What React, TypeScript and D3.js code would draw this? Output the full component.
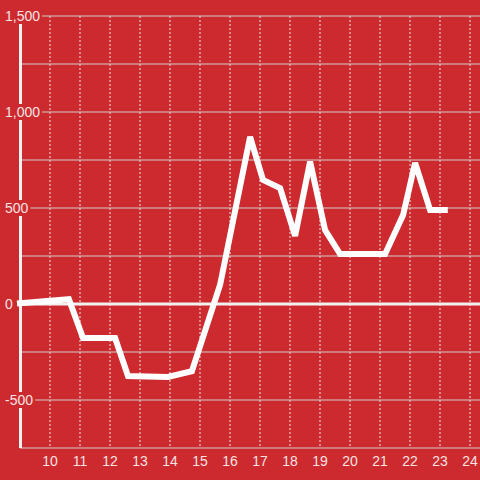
import React from "react";
import * as d3 from "d3";

const xs = [8.9, 10.63, 11.1, 12.17, 12.6, 13.93, 14.73, 15.67, 16.67, 17.1, 17.67, 18.17, 18.67, 19.17, 19.67, 21.17, 21.77, 22.17, 22.67, 23.26];
const ys = [3, 25, -177, -177, -375, -380, -350, 100, 870, 646, 604, 355, 742, 385, 260, 260, 463, 735, 490, 490];
const xTicks = [10, 11, 12, 13, 14, 15, 16, 17, 18, 19, 20, 21, 22, 23, 24];
const yGrid = [-750, -500, -250, 250, 500, 750, 1000, 1250, 1500];
const yLabels = [1500, 1000, 500, 0, -500];

const W = 480, H = 480;
const BG = "#cd2a2f";
const FONT = "'Liberation Sans', Arial, sans-serif";
const TXT = "#f7e3e3";

export default function App() {
  const x = d3.scaleLinear().domain([9, 25]).range([20, 500]);
  const y = d3.scaleLinear().domain([-750, 1500]).range([448, 16]);
  const fmt = (v: number) => d3.format(",")(v).replace("\u2212", "-");
  const data = xs.map((v, i) => [v, ys[i]] as [number, number]);
  const line = d3.line<[number, number]>().x(d => x(d[0])).y(d => y(d[1]));
  return (
    <div style={{ position: "absolute", left: 0, top: 0 }}>
      <svg width={W} height={H} style={{ display: "block" }}>
        <rect x={0} y={0} width={W} height={H} fill={BG} />
        {xTicks.map(t => (
          <line key={"vx" + t} x1={x(t)} x2={x(t)} y1={y(1500)} y2={y(-750)} stroke="#e6e6e6" strokeWidth={1} strokeDasharray="2,2" />
        ))}
        {yGrid.map(t => (
          <line key={"hy" + t} x1={20} x2={W} y1={y(t)} y2={y(t)} stroke="#cfcfcf" strokeWidth={1} />
        ))}
        <line x1={20} x2={W} y1={y(0)} y2={y(0)} stroke="#f2f2f2" strokeWidth={3} />
        <line x1={20.5} x2={20.5} y1={y(1500)} y2={y(-750)} stroke="#f2f2f2" strokeWidth={3} />
        {yLabels.map(t => {
          const s = fmt(t);
          const w = s.length * 7.8 - (s.includes(",") ? 3.9 : 0) - (s.startsWith("-") ? 3 : 0) + 4;
          return (
            <g key={"yl" + t}>
              <rect x={3} y={y(t) - 8} width={w} height={16} fill={BG} />
              <text x={5} y={y(t) + 5} fontSize={14} fontFamily={FONT} fill={TXT}>{s}</text>
            </g>
          );
        })}
        {xTicks.map(t => (
          <text key={"xl" + t} x={x(t)} y={466} fontSize={14} fontFamily={FONT} fill={TXT} textAnchor="middle">{t}</text>
        ))}
        <path d={line(data) || ""} fill="none" stroke="#ffffff" strokeWidth={6} strokeLinejoin="miter" strokeMiterlimit={2} />
      </svg>
    </div>
  );
}
